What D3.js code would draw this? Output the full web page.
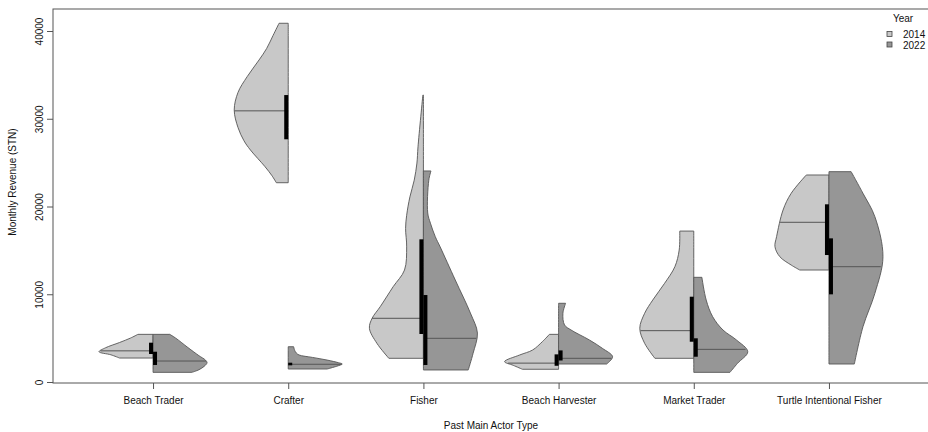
<!DOCTYPE html>
<html>
<head>
<meta charset="utf-8">
<script src="https://cdn.jsdelivr.net/npm/d3@7"></script>
<style>
  body { margin: 0; background: #fff; }
  text { font-family: "Liberation Sans", Arial, sans-serif; fill: #111; }
</style>
</head>
<body>
<script>
// categories and groups
var categories = ["Beach Trader", "Crafter", "Fisher", "Beach Harvester", "Market Trader", "Turtle Intentional Fisher"];
var years = ["2014", "2022"];
var yTicks = [0, 10000, 20000, 30000, 40000];

// medians and interquartile boxes
var median2014 = [3550, 30900, 7260, 2150, 5850, 18200];
var median2022 = [2390, 2020, 4980, 2700, 3720, 13140];
var q1_2014 = [3190, 27660, 5470, 1850, 4590, 14470];
var q3_2014 = [4480, 32700, 16260, 3150, 9720, 20250];
var q1_2022 = [1940, 1900, 1940, 2450, 2880, 9990];
var q3_2022 = [3450, 2200, 9910, 3600, 4980, 16370];

// half-violin outlines: [value, relative width] from max down to min
var shape2014 = [
  [[5430, 0.28], [5000, 0.42], [4500, 0.62], [3900, 0.88], [3450, 1.0], [3100, 0.78], [2730, 0.62]],
  [[40880, 0.17], [39500, 0.28], [38000, 0.4], [36700, 0.54], [34800, 0.76], [33000, 0.93], [31000, 1.0],
   [29000, 0.93], [27500, 0.82], [26440, 0.7], [24540, 0.43], [23500, 0.3], [22710, 0.22]],
  [[32700, 0.01], [26800, 0.1], [24950, 0.12], [23000, 0.17], [21100, 0.25], [19000, 0.31], [17500, 0.33],
   [15400, 0.31], [12760, 0.35], [10860, 0.56], [8580, 0.8], [7260, 0.95], [6120, 1.0], [4400, 0.86], [2700, 0.64]],
  [[5430, 0.17], [4600, 0.3], [3650, 0.48], [3080, 0.72], [2320, 1.0], [1900, 0.84], [1450, 0.67]],
  [[17200, 0.26], [15040, 0.27], [13140, 0.35], [11250, 0.54], [9340, 0.76], [7830, 0.91], [6120, 1.0],
   [4410, 0.91], [2700, 0.72]],
  [[23590, 0.42], [21500, 0.7], [19600, 0.85], [16560, 0.97], [15420, 1.0], [14280, 0.91], [13330, 0.7], [12760, 0.54]]
];
var shape2022 = [
  [[5430, 0.31], [5000, 0.42], [4000, 0.63], [3000, 0.85], [2500, 0.97], [2200, 1.0], [1800, 0.95], [1400, 0.85], [1100, 0.72]],
  [[4020, 0.1], [3600, 0.12], [3300, 0.15], [3080, 0.2], [2800, 0.45], [2500, 0.72], [2200, 0.93], [2050, 1.0], [1800, 0.9], [1480, 0.72]],
  [[24050, 0.14], [23000, 0.1], [19260, 0.08], [18100, 0.13], [16560, 0.22], [15400, 0.31], [11620, 0.59], [7860, 0.87],
   [5580, 1.0], [3270, 0.92], [1370, 0.83]],
  [[8970, 0.13], [7830, 0.08], [6500, 0.11], [5930, 0.23], [4790, 0.57], [3840, 0.81], [2880, 1.0], [2050, 0.89]],
  [[11930, 0.15], [9340, 0.23], [7440, 0.35], [5930, 0.54], [4790, 0.79], [3450, 1.0], [2130, 0.81], [1100, 0.67]],
  [[23970, 0.41], [21500, 0.63], [18840, 0.85], [14280, 1.0], [10100, 0.85], [6300, 0.63], [2050, 0.47]]
];

var fills = {"2014": "#c8c8c8", "2022": "#969696"};

var svgWidth = 928;
var svgHeight = 432;
var margin = {top: 9, right: -1, bottom: 49, left: 53};
var width = svgWidth - margin.left - margin.right;
var height = svgHeight - margin.top - margin.bottom;
var halfWidth = 54;

var svg = d3.select("body")
  .append("svg")
  .attr("width", svgWidth)
  .attr("height", svgHeight);

var g = svg.append("g")
  .attr("transform", "translate(" + margin.left + "," + margin.top + ")");

var x = d3.scalePoint()
  .domain(categories)
  .range([0, width])
  .padding(0.74);

var y = d3.scaleLinear()
  .domain([0, 40000])
  .range([373, 22]);

// half violins
function drawHalf(shape, i, side, year) {
  var cx = x(categories[i]);
  var area = d3.area()
    .y(function(d) { return y(d[0]); })
    .x0(cx)
    .x1(function(d) { return cx + side * d[1] * halfWidth; })
    .curve(d3.curveCatmullRom.alpha(0.5));
  g.append("path")
    .datum(shape)
    .attr("d", area)
    .attr("fill", fills[year])
    .attr("stroke", "#555")
    .attr("stroke-width", 0.9);
}

function widthAt(shape, v) {
  for (var k = 0; k < shape.length - 1; k++) {
    var a = shape[k], b = shape[k + 1];
    if (v <= a[0] && v >= b[0]) {
      var t = (a[0] - v) / (a[0] - b[0]);
      return a[1] + t * (b[1] - a[1]);
    }
  }
  return shape[shape.length - 1][1];
}

categories.forEach(function(c, i) {
  drawHalf(shape2014[i], i, -1, "2014");
  drawHalf(shape2022[i], i, 1, "2022");
});

// median lines
categories.forEach(function(c, i) {
  var cx = x(c);
  g.append("line")
    .attr("x1", cx).attr("x2", cx - widthAt(shape2014[i], median2014[i]) * halfWidth)
    .attr("y1", y(median2014[i])).attr("y2", y(median2014[i]))
    .attr("stroke", "#555").attr("stroke-width", 1);
  g.append("line")
    .attr("x1", cx).attr("x2", cx + widthAt(shape2022[i], median2022[i]) * halfWidth)
    .attr("y1", y(median2022[i])).attr("y2", y(median2022[i]))
    .attr("stroke", "#555").attr("stroke-width", 1);
});

// interquartile bars
g.selectAll(".box14")
  .data(categories)
  .enter()
  .append("rect")
  .attr("x", function(d) { return x(d) - 4; })
  .attr("y", function(d, i) { return y(q3_2014[i]); })
  .attr("width", 4)
  .attr("height", function(d, i) { return y(q1_2014[i]) - y(q3_2014[i]); })
  .attr("fill", "#000");

g.selectAll(".box22")
  .data(categories)
  .enter()
  .append("rect")
  .attr("x", function(d) { return x(d); })
  .attr("y", function(d, i) { return y(q3_2022[i]); })
  .attr("width", 4)
  .attr("height", function(d, i) { return y(q1_2022[i]) - y(q3_2022[i]); })
  .attr("fill", "#000");

// frame
g.append("rect")
  .attr("x", 0).attr("y", 0)
  .attr("width", width).attr("height", height)
  .attr("fill", "none")
  .attr("stroke", "#555")
  .attr("stroke-width", 1);

// y axis
var yAxis = g.append("g")
  .call(d3.axisLeft(y).tickValues(yTicks).tickSize(6).tickFormat(d3.format("d")));
yAxis.select(".domain").remove();
yAxis.selectAll("line").attr("stroke", "#555");
yAxis.selectAll("text")
  .attr("x", 0).attr("dy", null)
  .attr("transform", "translate(-10,0) rotate(-90)")
  .style("text-anchor", "middle")
  .style("font-size", "10px")
  .style("font-family", "Liberation Sans, Arial, sans-serif")
  .attr("fill", "#111");

// x axis
var xAxis = g.append("g")
  .attr("transform", "translate(0," + height + ")")
  .call(d3.axisBottom(x).tickSize(6));
xAxis.select(".domain").remove();
xAxis.selectAll("line").attr("stroke", "#555");
xAxis.selectAll("text")
  .attr("y", 21).attr("dy", null)
  .style("font-size", "10px")
  .style("font-family", "Liberation Sans, Arial, sans-serif")
  .attr("fill", "#111");

svg.append("text")
  .attr("transform", "translate(16," + (margin.top + 173) + ") rotate(-90)")
  .style("text-anchor", "middle")
  .style("font-size", "10px")
  .text("Monthly Revenue (STN)");

svg.append("text")
  .attr("x", 491)
  .attr("y", 429)
  .style("text-anchor", "middle")
  .style("font-size", "10px")
  .text("Past Main Actor Type");

// legend
var legend = svg.append("g").attr("transform", "translate(887,0)");
legend.append("text")
  .attr("x", 16).attr("y", 21.5)
  .style("text-anchor", "middle")
  .style("font-size", "10px")
  .text("Year");
years.forEach(function(yr, k) {
  legend.append("rect")
    .attr("x", 0).attr("y", 31.5 + k * 10.5)
    .attr("width", 5).attr("height", 5)
    .attr("fill", fills[yr])
    .attr("stroke", "#444")
    .attr("stroke-width", 0.8);
  legend.append("text")
    .attr("x", 16).attr("y", 38.3 + k * 10.5)
    .style("font-size", "10px")
    .text(yr);
});
</script>
</body>
</html>
